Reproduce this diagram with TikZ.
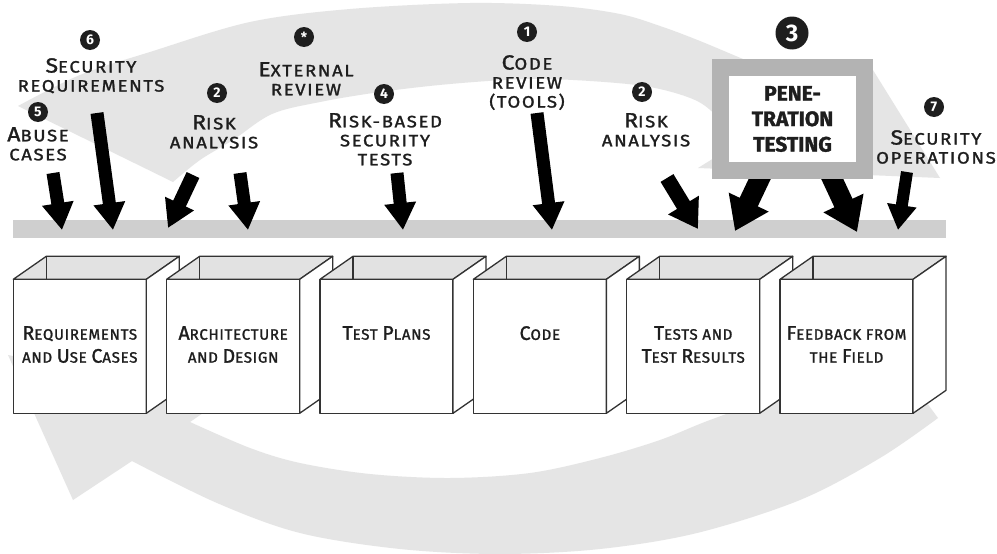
\documentclass[tikz,border=0pt]{standalone}
\usepackage{fontspec}
\setmainfont{Fira Sans}
\newfontfamily\lblfont[LetterSpace=10, FakeStretch=1.12, FakeBold=1.5]{Fira Sans}
\newfontfamily\boxfont[LetterSpace=5, FakeBold=1.5]{Fira Sans}
\usetikzlibrary{arrows.meta}
\definecolor{arcgray}{HTML}{E5E5E5}
\definecolor{bargray}{HTML}{CFCFCF}
\definecolor{penegray}{HTML}{B3B3B3}
\definecolor{insidegray}{HTML}{E2E2E2}
\definecolor{ink}{HTML}{1E1E1E}
\definecolor{edge}{HTML}{333333}
\newcommand\bigL[1]{{\fontsize{20.5}{20}\selectfont #1}}
\newcommand\bigB[1]{{\fontsize{19.5}{20}\selectfont #1}}
\begin{document}
\begin{tikzpicture}[x=1pt,y=-1pt,
  lbl/.style={font=\lblfont\fontsize{16.5}{19}\selectfont, align=center, text=ink, inner sep=0pt, anchor=north},
  boxtxt/.style={font=\boxfont\fontsize{15}{23}\selectfont, align=center, text=ink, inner sep=0pt, anchor=north},
  numc/.style={circle, fill=ink, text=white, font=\bfseries\fontsize{14}{14}\selectfont, minimum size=20pt, inner sep=0pt},
  blk/.style={draw=black, line width=13pt, -{Triangle[length=27pt,width=30pt]}},
  blkthick/.style={draw=black, line width=20pt, -{Triangle[length=32pt,width=42pt]}},
  boxfront/.style={draw=edge, line width=1.3pt, fill=white, minimum width=133pt, minimum height=134pt, inner sep=0pt, outer sep=0pt, line join=round},
  face/.style={draw=edge, line width=1.3pt, fill=white, line join=round},
  openface/.style={draw=edge, line width=1.3pt, fill=insidegray, line join=round}]
\useasboundingbox (0,0) rectangle (997,554);
\fill[white] (0,0) rectangle (997,554);

% top cycle arrow
\fill[arcgray] plot[smooth, tension=0.55] coordinates {(18,106) (80,75) (150,52) (250,22) (350,9) (470,3) (560,6) (620,14) (660,26) (700,41) (760,66) (823,90)}
  -- (868,62) -- (940,178) -- (698,168) -- (735,145)
  -- plot[smooth, tension=0.55] coordinates {(735,145) (718,118) (695,100) (650,87) (590,81) (527,79) (450,84) (380,92) (320,102) (272,114) (233,140) (200,160) (173,182)}
  -- cycle;

% bottom cycle arrow
\fill[arcgray] (8,355) -- (222,400) -- (190,422)
  -- plot[smooth, tension=0.55] coordinates {(190,422) (250,448) (300,463) (370,474) (450,478) (530,473) (600,458) (660,440) (710,420) (770,400) (850,385) (910,380)}
  -- (938,418)
  -- plot[smooth, tension=0.55] coordinates {(938,418) (880,458) (800,500) (697,533) (600,549) (500,554) (400,549) (300,533) (217,503) (132,461)}
  -- (73,500) -- cycle;

% horizontal bar
\fill[bargray] (13,220) rectangle (946,238);

% boxes
\foreach \i/\cx in {1/79.8, 2/233.15, 3/386.5, 4/539.85, 5/693.2, 6/846.55} {
  \node[boxfront] (b\i) at (\cx,346.3) {};
  \draw[openface] (b\i.north west) -- ++(33,-23) -- ++(133,0) -- (b\i.north east) -- cycle;
  \draw[face, fill=none] (b\i.north west) ++(33,-23) -- ++(0,23);
  \draw[face] (b\i.north east) -- ++(33,-23) -- ++(0,134) -- (b\i.south east) -- cycle;
}
\node[boxtxt] (t1) at (79.8,326) {\bigB{R}EQUIREMENTS\\AND \bigB{U}SE \bigB{C}ASES};
\node[boxtxt] (t2) at (233.15,326) {\bigB{A}RCHITECTURE\\AND \bigB{D}ESIGN};
\node[boxtxt] (t3) at (386.5,326) {\bigB{T}EST \bigB{P}LANS};
\node[boxtxt] (t4) at (539.85,326) {\bigB{C}ODE};
\node[boxtxt] (t5) at (693.2,326) {\bigB{T}ESTS AND\\\bigB{T}EST \bigB{R}ESULTS};
\node[boxtxt] (t6) at (846.55,326) {\bigB{F}EEDBACK FROM\\THE \bigB{F}IELD};

% arrow end points
\coordinate (a1s) at (53,173);  \coordinate (a1e) at (62,230);
\coordinate (a2s) at (97,113);  \coordinate (a2e) at (113,230);
\coordinate (a3s) at (193,175); \coordinate (a3e) at (168,228);
\coordinate (a4s) at (240,173); \coordinate (a4e) at (248,230);
\coordinate (a5s) at (397,173); \coordinate (a5e) at (403,230);
\coordinate (a6s) at (537,113); \coordinate (a6e) at (552,230);
\coordinate (a7s) at (667,178); \coordinate (a7e) at (698,229);
\coordinate (a8s) at (763,172); \coordinate (a8e) at (735,231);
\coordinate (a9s) at (829,172); \coordinate (a9e) at (857,232);
\coordinate (a10s) at (907,172); \coordinate (a10e) at (898,230);

\draw[blk] (a1s) -- (a1e);
\draw[blk] (a2s) -- (a2e);
\draw[blk, line width=14pt] (a3s) -- (a3e);
\draw[blk] (a4s) -- (a4e);
\draw[blk] (a5s) -- (a5e);
\draw[blk] (a6s) -- (a6e);
\draw[blk, line width=15pt, -{Triangle[length=28pt,width=34pt]}] (a7s) -- (a7e);
\draw[blkthick] (a8s) -- (a8e);
\draw[blkthick] (a9s) -- (a9e);
\draw[blk, line width=12pt, -{Triangle[length=25pt,width=28pt]}] (a10s) -- (a10e);

% labels
\node[numc] (n5) at (38,112) {5};
\node[lbl] (l5) at (38,127) {\bigL{A}BUSE\\CASES};
\node[numc] (n6) at (90,40) {6};
\node[lbl] (l6) at (91,58) {\bigL{S}ECURITY\\REQUIREMENTS};
\node[numc] (n2a) at (217,93) {2};
\node[lbl] (l2a) at (214,115) {\bigL{R}ISK\\ANALYSIS};
\node[numc] (nx) at (304,37) {\raisebox{-4pt}{*}};
\node[lbl] (lx) at (306,62) {\bigL{E}XTERNAL\\REVIEW};
\node[numc] (n4) at (384,94) {4};
\node[lbl] (l4) at (385,113) {\bigL{R}ISK-BASED\\SECURITY\\TESTS};
\node[numc] (n1) at (527,32) {1};
\node[lbl] (l1) at (527,55) {\bigL{C}ODE\\REVIEW\\(TOOLS)};
\node[numc] (n2b) at (642,92) {2};
\node[lbl] (l2b) at (646,113) {\bigL{R}ISK\\ANALYSIS};
\node[numc] (n7) at (934,107) {7};
\node[lbl] (l7) at (936,130) {\bigL{S}ECURITY\\OPERATIONS};

% penetration testing
\node[draw=penegray, line width=17pt, fill=white, minimum width=144pt, minimum height=103pt, inner sep=0pt, align=center, text=ink, font=\bfseries\addfontfeature{FakeBold=1.2}\fontsize{21}{25.5}\selectfont] (pene) at (792.5,119) {PENE-\\TRATION\\TESTING};
\node[numc, minimum size=33pt, font=\bfseries\fontsize{24}{24}\selectfont] (n3) at (792,33) {3};
\end{tikzpicture}
\end{document}
